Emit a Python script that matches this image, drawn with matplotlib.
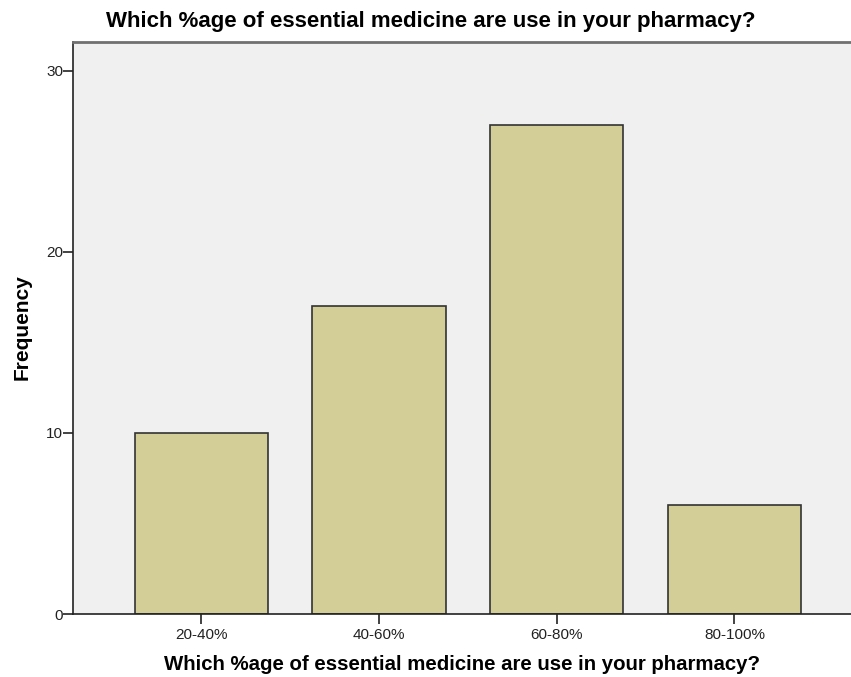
import matplotlib
matplotlib.use('Agg')
import matplotlib.pyplot as plt

categories = ['20-40%', '40-60%', '60-80%', '80-100%']
frequency = [10, 17, 27, 6]
yticks = [0, 10, 20, 30]
title = 'Which %age of essential medicine are use in your pharmacy?'

plt.rcParams['font.family'] = ['Liberation Sans', 'DejaVu Sans']

fig = plt.figure(figsize=(8.51, 6.77), dpi=100)
ax = fig.add_axes([73 / 851, 1 - 614 / 677, 1 - 73 / 851, (614 - 42) / 677])
ax.set_facecolor('#F0F0F0')

x = list(range(len(categories)))
ax.bar(x, frequency, width=0.75, color='#D3CE97', edgecolor='#333333', linewidth=1.2, zorder=2)

ax.set_xlim(-0.723, 3.656)
ax.set_ylim(0, 31.6)
ax.set_xticks(x)
ax.set_xticklabels(categories, fontsize=11, color='#222222')
ax.set_yticks(yticks)
ax.set_yticklabels([str(t) for t in yticks], fontsize=11, color='#222222')
ax.tick_params(axis='both', length=7, width=1.2, color='#222222')
ax.tick_params(axis='y', pad=0)
ax.tick_params(axis='x', pad=3)

ax.spines['right'].set_visible(False)
ax.spines['top'].set_color('#707070')
ax.spines['top'].set_linewidth(2)
ax.spines['left'].set_color('#222222')
ax.spines['bottom'].set_color('#222222')
ax.spines['left'].set_linewidth(1.2)
ax.spines['bottom'].set_linewidth(1.2)

fig.text(431 / 851, 1 - 21 / 677, title, ha='center', va='center', fontsize=16, fontweight='bold')
fig.text(462 / 851, 1 - 665 / 677, title, ha='center', va='center', fontsize=14.7, fontweight='bold')
fig.text(22 / 851, 1 - 327 / 677, 'Frequency', ha='center', va='center', rotation=90, fontsize=15, fontweight='bold')

fig.savefig('out.png', dpi=100)
